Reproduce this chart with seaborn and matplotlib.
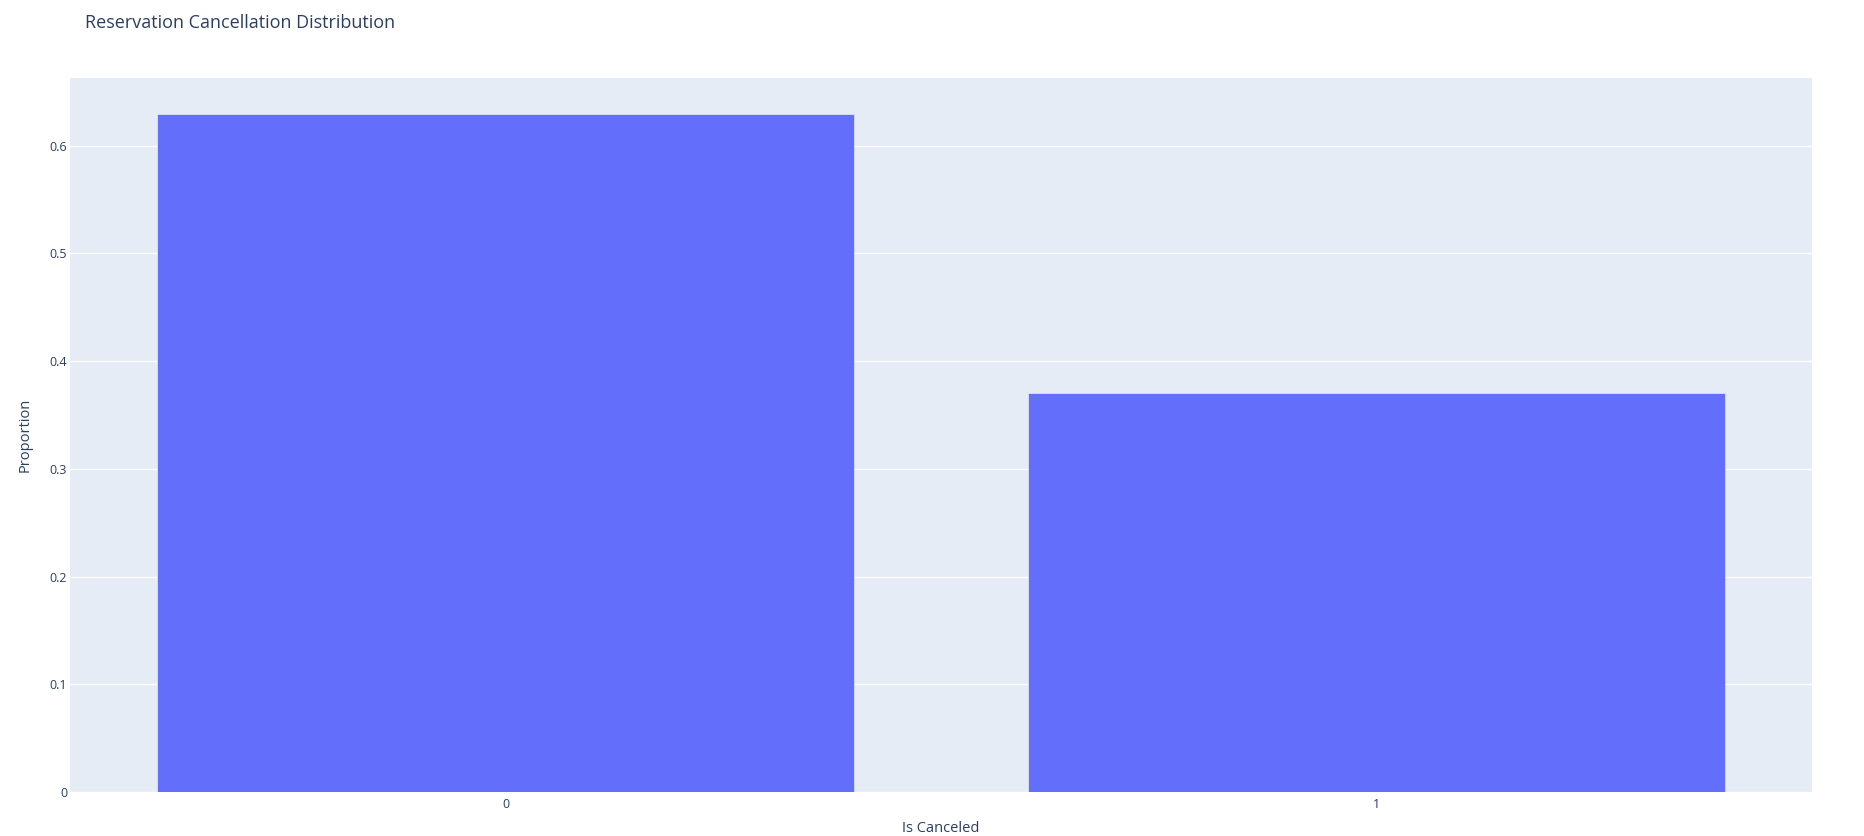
import numpy as np
import pandas as pd
import matplotlib
matplotlib.use('Agg')
import matplotlib.pyplot as plt
from matplotlib.ticker import FuncFormatter
import seaborn as sns

# values
is_canceled = ['0', '1']
proportion = [0.6296, 0.3704]
y_ticks = [0, 0.1, 0.2, 0.3, 0.4, 0.5, 0.6]

df = pd.DataFrame({'is_canceled': is_canceled, 'proportion': proportion})

sns.set_style('white')
plt.rcParams['font.family'] = ['Open Sans', 'DejaVu Sans']

text_color = '#2a3f5f'
bg_color = '#E5ECF6'
bar_color = '#636EFA'

fig = plt.figure(figsize=(18.65, 8.36), dpi=100)
ax = fig.add_axes([70 / 1865, 1 - 792 / 836, 1742 / 1865, 714 / 836])
ax.set_facecolor(bg_color)

sns.barplot(data=df, x='is_canceled', y='proportion', color=bar_color,
            saturation=1, width=0.8, edgecolor=bg_color, linewidth=0.5,
            errorbar=None, ax=ax, zorder=3)

ax.set_xlim(-0.5, 1.5)
ax.set_ylim(0, max(proportion) * 1.0526)
ax.set_yticks(y_ticks)
ax.yaxis.set_major_formatter(FuncFormatter(lambda v, p: f'{v:g}'))
ax.grid(axis='y', color='white', linewidth=1, zorder=0)
ax.set_axisbelow(True)
for s in ax.spines.values():
    s.set_visible(False)

ax.tick_params(axis='both', length=0, labelsize=9, labelcolor=text_color)
ax.tick_params(axis='x', pad=4)
ax.tick_params(axis='y', pad=2)

ax.set_xlabel('Is Canceled', fontsize=10.5, color=text_color)
ax.set_ylabel('Proportion', fontsize=10.5, color=text_color)
ax.xaxis.set_label_coords(0.5, (792 - 828) / 714)
ax.xaxis.label.set_va('center')
ax.yaxis.set_label_coords((25 - 70) / 1742, 0.5)
ax.yaxis.label.set_va('center')

fig.text(85 / 1865, 1 - 23 / 836, 'Reservation Cancellation Distribution',
         fontsize=13, color=text_color, ha='left', va='center')

fig.savefig('out.png', dpi=100)
